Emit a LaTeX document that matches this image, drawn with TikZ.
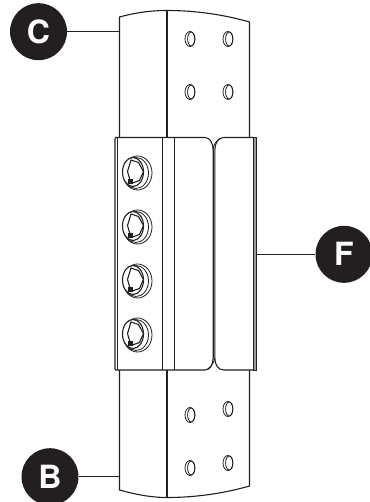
\documentclass[tikz,border=0pt]{standalone}
\usepackage{fontspec}
\setsansfont{TeX Gyre Heros}
\usepackage{xcolor}
\definecolor{badge}{HTML}{231F20}
\definecolor{edgebar}{HTML}{9A9A9A}
\tikzset{
  plate line/.style={draw=badge,line width=1.1pt},
  thin line/.style={draw=badge,line width=0.8pt},
  callout/.style={draw=badge,line width=1.5pt},
  badge node/.style={circle,fill=badge,text=white,minimum size=57pt,inner sep=0pt,font=\sffamily\bfseries\fontsize{32}{32}\selectfont},
  pics/hole/.style={code={
    \draw[thin line] (0,0) ellipse (5 and 7.5);
    \draw[thin line] (1.2,0) ellipse (3.6 and 7);
  }},
  pics/bolt/.style={code={
    \draw[thin line,fill=white] (4.5,0) ellipse (14.5 and 17);
    \draw[thin line] (3,0) ellipse (12.5 and 15.5);
    \draw[plate line,fill=white] (0,-1) ellipse (10.5 and 14.5);
    \draw[plate line,fill=white] (-2,-13) -- (5.5,-10.5) -- (10.5,-1.5) -- (6.5,7.5) -- (-2,10.5) -- (-5.5,-1.5) -- cycle;
    \fill[badge] (-5.5,6) rectangle (-0.5,11);
  }}
}
\begin{document}
\begin{tikzpicture}[x=1pt,y=-1pt]
  \useasboundingbox (0,0) rectangle (369,502);

  % Plates
  \draw[plate line] (119.5,138) -- (119.5,17) .. controls (134,13) and (150,10.5) .. (167,10.5)
    .. controls (197,10.5) and (225,15) .. (249.5,22) -- (249.5,138);
  \draw[plate line] (167,10.5) -- (167,138);
  \draw[plate line] (119.5,370) -- (119.5,490) .. controls (134,494) and (150,497.5) .. (167,497.5)
    .. controls (197,497.5) and (225,493) .. (249.5,486) -- (249.5,370);
  \draw[plate line] (167,370) -- (167,497.5);

  % Holes
  \foreach \hx/\hy in {190/39,228/39,190/92,228/92,190/415,228/409,190/468,228/463}
    \pic at (\hx,\hy) {hole};

  % Clamp
  \draw[plate line] (115,139) -- (115,369) -- (115.5,370) -- (205,370)
    .. controls (210,370) and (213,365) .. (213.2,358) -- (213.2,150)
    .. controls (213,143) and (210,137.5) .. (205,137.5) -- (115.5,137.5) -- (115,139);
  \draw[plate line] (214.8,150) .. controls (215,143) and (218,137.5) .. (224,137.5) -- (253,137.5);
  \draw[plate line] (214.8,150) -- (214.8,358) .. controls (215,365) and (218,370) .. (224,370) -- (253,370);
  \draw[thin line] (213.2,150) .. controls (213,145) and (216,141) .. (220,138.5);
  \draw[thin line] (214.8,358) .. controls (214,364) and (210,367) .. (207,369.5);
  \draw[thin line] (117.5,137.5) -- (117.5,370);
  \draw[plate line] (162.5,137.5) -- (162.5,370);
  \draw[plate line] (174.5,137.5) -- (174.5,370);
  \draw[line width=0.5pt,draw=badge,fill=edgebar] (253,137.5) -- (256.5,137.5) -- (256.5,370) -- (253,370) -- cycle;

  % Bolts
  \foreach \by in {173,227,281,335}
    \pic at (133,\by) {bolt};

  % Labels
  \node[badge node] (C) at (38.5,31.7) {C};
  \node[badge node] (B) at (50,476.7) {B};
  \node[badge node] (F) at (344,254.3) {F};
  \coordinate (plateC) at (119.5,31.7);
  \coordinate (plateB) at (119.5,476.7);
  \coordinate (clampF) at (256.5,254.3);

  % Edges
  \draw[callout] (C) -- (plateC);
  \draw[callout] (B) -- (plateB);
  \draw[callout] (F) -- (clampF);
\end{tikzpicture}
\end{document}
